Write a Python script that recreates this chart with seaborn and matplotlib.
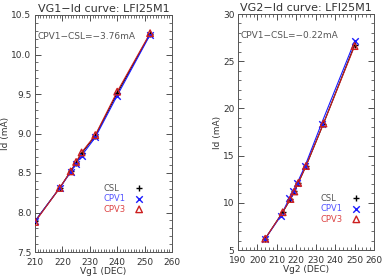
import numpy as np
import pandas as pd
import matplotlib
matplotlib.use("Agg")
import matplotlib.pyplot as plt
from matplotlib.ticker import MultipleLocator
import seaborn as sns

sns.set_style("ticks")
plt.rcParams['font.family'] = ['DejaVu Sans']

# VG1 sweep
vg1_csl = [210, 219, 223, 225, 227, 232, 240, 252]
id1_csl = [7.89, 8.31, 8.52, 8.63, 8.75, 8.97, 9.51, 10.26]
vg1_cpv1 = [210, 219, 223, 225, 227, 232, 240, 252]
id1_cpv1 = [7.89, 8.31, 8.51, 8.62, 8.72, 8.95, 9.48, 10.25]
vg1_cpv3 = [210, 219, 223, 225, 227, 232, 240, 252]
id1_cpv3 = [7.88, 8.31, 8.52, 8.64, 8.76, 8.98, 9.53, 10.27]

# VG2 sweep
vg2_csl = [204, 213, 217, 219, 221, 225, 234, 250]
id2_csl = [6.2, 9.0, 10.4, 11.2, 12.1, 13.9, 18.4, 26.7]
vg2_cpv1 = [204, 212, 216.5, 218.5, 220.5, 224.5, 233, 250]
id2_cpv1 = [6.2, 8.6, 10.5, 11.3, 12.1, 13.9, 18.4, 27.1]
vg2_cpv3 = [204, 213, 217, 219, 221, 225, 234, 250]
id2_cpv3 = [6.2, 9.0, 10.4, 11.2, 12.1, 13.9, 18.4, 26.6]

series = ["CSL", "CPV1", "CPV3"]
line_cols = {"CSL": "black", "CPV1": "#1a1aff", "CPV3": "#cc1f1f"}
text_cols = {"CSL": "#555555", "CPV1": "#5555ff", "CPV3": "#dd4444"}
markers = {"CSL": "+", "CPV1": "x", "CPV3": "^"}


def make_df(xs, ys):
    rows = []
    for name, x, y in zip(series, xs, ys):
        for a, b in zip(x, y):
            rows.append({"vg": a, "id": b, "src": name})
    return pd.DataFrame(rows)


df1 = make_df([vg1_csl, vg1_cpv1, vg1_cpv3], [id1_csl, id1_cpv1, id1_cpv3])
df2 = make_df([vg2_csl, vg2_cpv1, vg2_cpv3], [id2_csl, id2_cpv1, id2_cpv3])

fig = plt.figure(figsize=(3.82, 2.78), dpi=100)
ax1 = fig.add_axes([35 / 382, 1 - 252 / 278, 137 / 382, 237 / 278])
ax2 = fig.add_axes([238 / 382, 1 - 250 / 278, 136 / 382, 236 / 278])


def draw(ax, df, title, xlab, note, xlim, ylim, xmaj, xmin, ymaj, ymin, leg_xy):
    for name in series:
        d = df[df.src == name]
        sns.lineplot(data=d, x="vg", y="id", ax=ax, color=line_cols[name], lw=0.8,
                     sort=False, estimator=None)
        if name == "CPV3":
            ax.scatter(d.vg, d.id, marker="^", s=22, facecolors="none",
                       edgecolors=line_cols[name], linewidths=1.0, zorder=3)
        else:
            ax.scatter(d.vg, d.id, marker=markers[name], s=22,
                       color=line_cols[name], linewidths=1.0, zorder=3)
    ax.set_xlim(*xlim)
    ax.set_ylim(*ylim)
    ax.xaxis.set_major_locator(MultipleLocator(xmaj))
    ax.xaxis.set_minor_locator(MultipleLocator(xmin))
    ax.yaxis.set_major_locator(MultipleLocator(ymaj))
    ax.yaxis.set_minor_locator(MultipleLocator(ymin))
    ax.tick_params(which="both", direction="in", top=True, right=True,
                   labelsize=6.5, colors="#333333", pad=2.5)
    ax.tick_params(axis="x", which="major", pad=4)
    ax.tick_params(which="major", length=4, width=0.6)
    ax.tick_params(which="minor", length=2, width=0.5)
    for s in ax.spines.values():
        s.set_color("#555555")
        s.set_linewidth(0.7)
    ax.set_title(title, fontsize=8, color="#333333", pad=2)
    ax.set_xlabel(xlab, fontsize=6.5, color="#333333", labelpad=0)
    ax.set_ylabel("Id (mA)", fontsize=6.5, color="#333333", labelpad=1)
    ax.text(0.02, 0.90, note, transform=ax.transAxes, fontsize=6.5, color="#555555")
    lx, ly = leg_xy
    for i, name in enumerate(series):
        y = ly - i * 0.045
        ax.text(lx, y, name, transform=ax.transAxes, fontsize=6, color=text_cols[name],
                va="center")
        if name == "CPV3":
            ax.scatter([lx + 0.26], [y], marker="^", s=22, facecolors="none",
                       edgecolors=line_cols[name], linewidths=1.0, transform=ax.transAxes,
                       clip_on=False)
        else:
            ax.scatter([lx + 0.26], [y], marker=markers[name], s=22,
                       color=line_cols[name], linewidths=1.0, transform=ax.transAxes,
                       clip_on=False)


draw(ax1, df1, "VG1\u2212Id curve: LFI25M1", "Vg1 (DEC)", "CPV1\u2212CSL=\u22123.76mA",
     (210, 260), (7.5, 10.5), 10, 1, 0.5, 0.1, (0.50, 0.27))
draw(ax2, df2, "VG2\u2212Id curve: LFI25M1", "Vg2 (DEC)", "CPV1\u2212CSL=\u22120.22mA",
     (190, 260), (5, 30), 10, 2, 5, 1, (0.61, 0.22))

fig.savefig("out.png", dpi=100)
